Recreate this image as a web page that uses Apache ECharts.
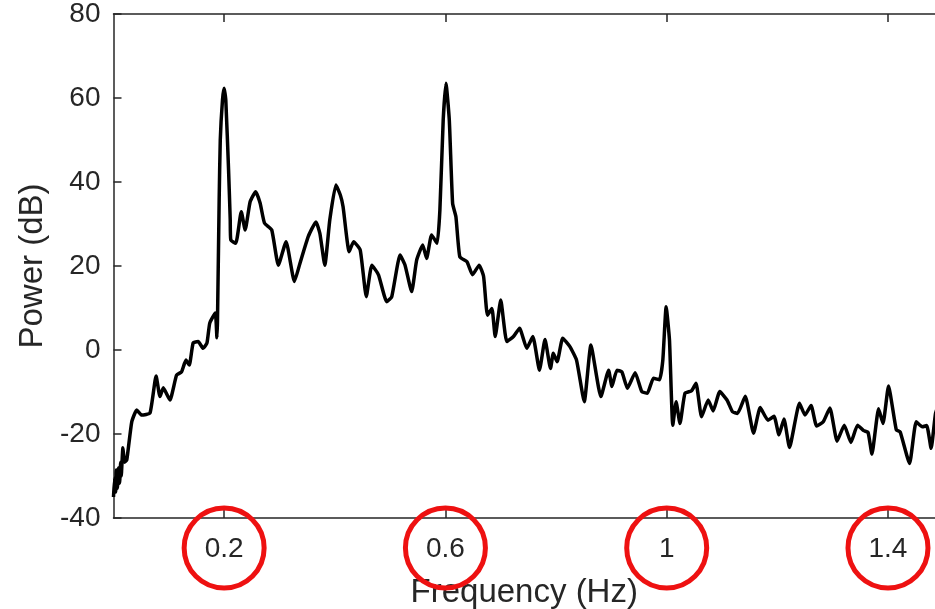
<!DOCTYPE html>
<html>
<head>
<meta charset="utf-8">
<script src="https://cdn.jsdelivr.net/npm/echarts@6/dist/echarts.min.js"></script>
<style>
html,body{margin:0;padding:0;background:#fff;}
#chart{width:935px;height:609px;}
</style>
</head>
<body>
<div id="chart"></div>
<script>
// Frequency (Hz)
var freq = [0.000,0.002,0.004,0.005,0.007,0.009,0.011,0.013,0.014,0.017,0.020,0.024,0.033,0.042,0.051,0.066,0.077,0.084,0.090,0.102,0.114,0.123,0.131,0.137,0.144,0.153,0.162,0.169,0.174,0.184,0.187,0.188,0.191,0.193,0.197,0.200,0.203,0.208,0.211,0.212,0.221,0.231,0.238,0.247,0.257,0.265,0.273,0.286,0.298,0.312,0.327,0.337,0.352,0.366,0.373,0.382,0.391,0.402,0.410,0.415,0.426,0.434,0.446,0.457,0.467,0.479,0.494,0.503,0.518,0.527,0.539,0.548,0.559,0.566,0.575,0.585,0.590,0.596,0.601,0.607,0.613,0.619,0.626,0.639,0.649,0.661,0.669,0.676,0.684,0.690,0.700,0.711,0.723,0.734,0.747,0.758,0.770,0.780,0.790,0.795,0.802,0.812,0.825,0.837,0.851,0.863,0.881,0.895,0.901,0.910,0.919,0.929,0.943,0.955,0.965,0.976,0.987,0.993,0.999,1.005,1.011,1.017,1.024,1.033,1.045,1.053,1.063,1.075,1.084,1.096,1.109,1.119,1.128,1.142,1.157,1.169,1.183,1.194,1.203,1.212,1.222,1.240,1.250,1.261,1.271,1.283,1.295,1.308,1.321,1.333,1.345,1.356,1.364,1.371,1.383,1.391,1.401,1.415,1.422,1.439,1.451,1.462,1.470,1.478,1.486,1.494];
// Power (dB)
var power = [-35.0,-30.5,-33.8,-28.6,-32.9,-28.1,-31.7,-26.7,-30.0,-23.3,-26.7,-26.2,-17.1,-14.3,-15.5,-15.0,-6.2,-11.1,-9.0,-11.9,-6.0,-5.2,-2.4,-3.6,1.7,2.0,0.4,1.7,6.4,8.8,2.9,7.1,35.7,50.0,59.5,62.3,59.5,42.9,31.0,26.2,25.4,32.9,28.6,35.3,37.7,35.0,30.2,28.6,20.2,25.8,16.3,20.6,27.0,30.5,27.8,20.2,31.0,39.3,36.9,34.1,23.4,25.8,23.8,12.7,20.2,17.9,11.5,12.7,22.6,20.2,13.9,21.4,25.0,21.8,27.4,25.4,33.3,54.8,63.5,54.8,34.9,31.7,22.2,21.0,17.9,20.2,17.5,8.3,9.9,3.2,11.9,2.0,3.2,5.2,0.4,3.2,-4.8,2.5,-4.4,-0.8,-2.8,2.8,0.8,-2.4,-12.3,1.2,-11.1,-4.8,-8.7,-4.8,-5.2,-9.1,-5.4,-9.9,-10.3,-6.7,-7.1,-2.4,10.3,2.4,-17.9,-12.3,-17.5,-10.3,-9.7,-7.9,-15.9,-11.9,-14.5,-9.9,-11.9,-14.7,-15.1,-11.0,-19.8,-13.7,-16.7,-15.8,-20.2,-16.4,-23.2,-12.7,-15.5,-13.2,-18.1,-17.1,-13.8,-21.7,-17.9,-22.0,-17.9,-19.2,-19.6,-24.8,-14.0,-17.5,-8.6,-19.0,-19.5,-27.0,-17.1,-18.3,-18.0,-23.4,-15.1,-12.0];
var xTicks = [0.2, 0.6, 1, 1.4];
var yMin = -40, yMax = 80, yStep = 20;
var xMin = 0, xMax = 1.485;
var circledTicks = [0.2, 0.6, 1, 1.4];

var data = freq.map(function (f, i) { return [f, power[i]]; });
var txt = '#262626';
var font = 'Liberation Sans, Arial, Helvetica, sans-serif';

var chart = echarts.init(document.getElementById('chart'), null, {renderer: 'canvas'});
var xBase = {
  type: 'value', min: xMin, max: xMax,
  axisLine: {show: true, onZero: false, lineStyle: {color: txt, width: 1.5}},
  axisTick: {show: true, inside: true, length: 8, customValues: xTicks, lineStyle: {color: txt, width: 1.5}},
  splitLine: {show: false}
};
chart.setOption({
  animation: false,
  backgroundColor: '#fff',
  grid: {left: 113.5, top: 14, right: 0, bottom: 91, show: false, containLabel: false, outerBoundsMode: 'none'},
  xAxis: [
    Object.assign({}, xBase, {
      position: 'bottom',
      name: 'Frequency (Hz)', nameLocation: 'middle', nameGap: 58,
      nameTextStyle: {color: txt, fontSize: 33, fontFamily: font},
      axisLabel: {show: true, customValues: xTicks, margin: 17, color: txt, fontSize: 28, fontFamily: font,
        formatter: function (v) { return String(+v.toFixed(2)); }}
    }),
    Object.assign({}, xBase, {position: 'top', axisLabel: {show: false}})
  ],
  yAxis: [{
    type: 'value', min: yMin, max: yMax, interval: yStep,
    name: 'Power (dB)', nameLocation: 'middle', nameGap: 58, nameRotate: 90,
    nameTextStyle: {color: txt, fontSize: 33, fontFamily: font},
    axisLine: {show: true, lineStyle: {color: txt, width: 1.5}},
    axisTick: {show: true, inside: true, length: 8, lineStyle: {color: txt, width: 1.5}},
    axisLabel: {margin: 13, color: txt, fontSize: 28, fontFamily: font},
    splitLine: {show: false}
  }],
  series: [{
    type: 'line', data: data, showSymbol: false, smooth: 0.15,
    lineStyle: {color: '#000', width: 3.5}, z: 3
  }]
});

// red annotation circles around selected tick labels
var gridBottomPx = chart.convertToPixel({yAxisIndex: 0}, yMin);
var graphics = circledTicks.map(function (v) {
  var cx = chart.convertToPixel({xAxisIndex: 0}, v);
  return {
    type: 'ellipse', z: 100,
    shape: {cx: cx, cy: gridBottomPx + 30, rx: 40, ry: 40},
    style: {fill: null, stroke: '#ee1111', lineWidth: 5}
  };
});
chart.setOption({graphic: graphics});
</script>
</body>
</html>
